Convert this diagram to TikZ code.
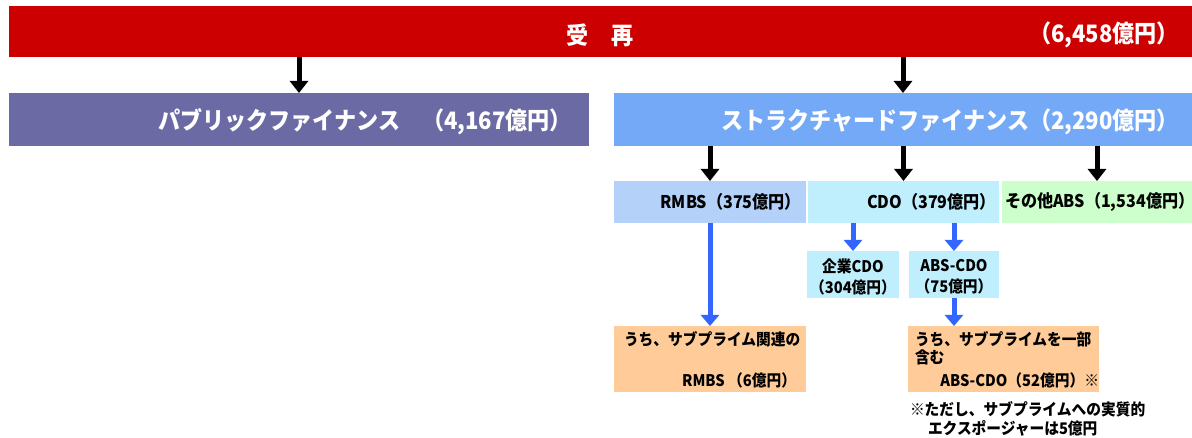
\documentclass[tikz,border=0pt]{standalone}
\usepackage{fontspec}
\setmainfont{Noto Sans CJK JP}[FakeStretch=0.92]
\usetikzlibrary{arrows.meta}
\definecolor{cred}{HTML}{CC0000}
\definecolor{cpurple}{HTML}{6C6AA4}
\definecolor{cblue}{HTML}{74A9F7}
\definecolor{crmbs}{HTML}{B3D1F9}
\definecolor{ccdo}{HTML}{BFEFFC}
\definecolor{cabs}{HTML}{CCFFCC}
\definecolor{corange}{HTML}{FFCC99}
\definecolor{carrow}{HTML}{3366FF}
\tikzset{
  box/.style={anchor=north west, inner sep=0pt, outer sep=0pt, draw=none},
  hfont/.style={font=\fontsize{24}{28}\selectfont\bfseries, text=white},
  mfont/.style={font=\fontsize{17.5}{20}\selectfont\bfseries},
  sfont/.style={font=\fontsize{16}{21}\selectfont\bfseries},
  txt/.style={inner sep=0pt, outer sep=0pt},
  blk/.style={line width=5pt, draw=black, -{Triangle[width=18pt,length=12pt]}},
  blu/.style={line width=5pt, draw=carrow, -{Triangle[width=18pt,length=11pt]}},
}
\begin{document}
\begin{tikzpicture}[x=1pt,y=-1pt]
\useasboundingbox (0,0) rectangle (1192,438);
% top bar
\node[box, fill=cred, minimum width=1183pt, minimum height=51pt] (top) at (9,6) {};
\node[txt, hfont] (toplbl) at (600,35) {受　再};
\node[txt, hfont, anchor=east] (topamt) at (1179,35) {（6,458億円）};
% second level
\node[box, fill=cpurple, minimum width=580pt, minimum height=53pt] (pub) at (9,93) {};
\node[txt, hfont, anchor=east] (publbl) at (572,122) {パブリックファイナンス　（4,167億円）};
\node[box, fill=cblue, minimum width=578pt, minimum height=53pt] (sf) at (614,93) {};
\node[txt, hfont, anchor=east] (sflbl) at (1179,122) {ストラクチャードファイナンス（2,290億円）};
% third level
\node[box, fill=crmbs, minimum width=192pt, minimum height=42pt] (rmbs) at (614,181) {};
\node[txt, mfont, anchor=east] (rmbslbl) at (801,202) {RMBS（375億円）};
\node[box, fill=ccdo, minimum width=191pt, minimum height=42pt] (cdo) at (808,181) {};
\node[txt, mfont, anchor=east] (cdolbl) at (996,202) {CDO（379億円）};
\node[box, fill=cabs, minimum width=190pt, minimum height=42pt] (oabs) at (1002,181) {};
\node[txt, mfont, anchor=west] (oabslbl) at (1005,202) {その他ABS（1,534億円）};
% fourth level
\node[box, fill=ccdo, minimum width=92pt, minimum height=47pt] (kcdo) at (807,251) {};
\node[txt, sfont, align=center] (kcdolbl) at (853,277) {企業CDO\\（304億円）};
\node[box, fill=ccdo, minimum width=90pt, minimum height=47pt] (acdo) at (909,251) {};
\node[txt, sfont, align=center] (acdolbl) at (954,277) {ABS-CDO\\（75億円）};
% orange
\node[box, fill=corange, minimum width=192pt, minimum height=66pt] (o1) at (614,326) {};
\node[txt, sfont, anchor=west] (o1a) at (624,339) {うち、サブプライム関連の};
\node[txt, sfont, anchor=east] (o1b) at (796,380) {RMBS （6億円）};
\node[box, fill=corange, minimum width=191pt, minimum height=66pt] (o2) at (908,326) {};
\node[txt, sfont, anchor=west] (o2a) at (915,339) {うち、サブプライムを一部};
\node[txt, sfont, anchor=west] (o2b) at (915,357) {含む};
\node[txt, sfont, anchor=east] (o2c) at (1099,380) {ABS-CDO（52億円）※};
% note
\node[txt, sfont, anchor=west] (n1) at (910,409) {※ただし、サブプライムへの実質的};
\node[txt, sfont, anchor=west] (n2) at (928,428) {エクスポージャーは5億円};
% arrows
\draw[blk] (pub.north |- top.south) -- (pub.north);
\draw[blk] (sf.north |- top.south) -- (sf.north);
\draw[blk] (rmbs.north |- sf.south) -- (rmbs.north);
\draw[blk] (cdo.north |- sf.south) -- (cdo.north);
\draw[blk] (oabs.north |- sf.south) -- (oabs.north);
\draw[blu] (kcdo.north |- cdo.south) -- (kcdo.north);
\draw[blu] (acdo.north |- cdo.south) -- (acdo.north);
\draw[blu] (rmbs.south) -- (rmbs.south |- o1.north);
\draw[blu] (acdo.south) -- (acdo.south |- o2.north);
\end{tikzpicture}
\end{document}
